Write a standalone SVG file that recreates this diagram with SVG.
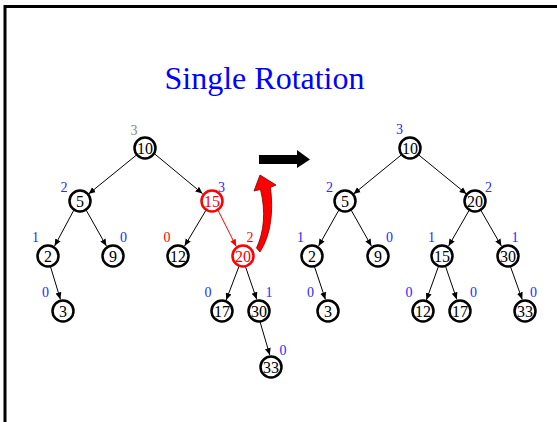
<svg xmlns="http://www.w3.org/2000/svg" width="557" height="422" viewBox="0 0 557 422">
<style>
.n circle{fill:#fff;stroke:#000;stroke-width:2.5}
.n text{font-family:"Liberation Serif","Times New Roman","DejaVu Serif",serif;font-size:16px;text-anchor:middle;fill:#000}
.r circle{stroke:#f00}
.r text{fill:#f00}
.t{font-family:"Liberation Serif","Times New Roman","DejaVu Serif",serif;font-size:32px;fill:#00f;text-anchor:middle}
.h{font-family:"Liberation Serif","Times New Roman","DejaVu Serif",serif;font-size:14px;fill:#2828ff;text-anchor:middle}
.hr{fill:#f00}
.hg{fill:#8a8a8a}
.e line{stroke:#000;stroke-width:1;marker-end:url(#ah)}
.e line.red{stroke:#f00;marker-end:url(#ahr)}
</style>
<defs>
<marker id="ah" markerUnits="userSpaceOnUse" markerWidth="8" markerHeight="8" viewBox="0 0 8 8" refX="7" refY="4" orient="auto"><path d="M0,1 L7,4 L0,7 Z" fill="#000"/></marker>
<marker id="ahr" markerUnits="userSpaceOnUse" markerWidth="8" markerHeight="8" viewBox="0 0 8 8" refX="7" refY="4" orient="auto"><path d="M0,1 L7,4 L0,7 Z" fill="#f00"/></marker>
</defs>
<rect width="557" height="422" fill="#fff"/>
<path d="M5,422 V6.5 H557" fill="none" stroke="#000" stroke-width="3"/>
<text class="t" x="264.5" y="89">Single Rotation</text>

<g id="connectors" class="e">
<line x1="136.5" y1="155" x2="88.5" y2="194"/>
<line x1="153.8" y1="153.2" x2="202.5" y2="193.6"/>
<line x1="73.8" y1="210.2" x2="54.6" y2="246"/>
<line x1="86.2" y1="210.2" x2="106.4" y2="246"/>
<line x1="206" y1="210.2" x2="184.6" y2="246"/>
<line class="red" x1="218" y1="210.2" x2="236.2" y2="246.4"/>
<line x1="50.5" y1="266.7" x2="60.4" y2="299.4"/>
<line x1="239" y1="266.3" x2="226.2" y2="300"/>
<line x1="245.5" y1="266.7" x2="256.7" y2="299.3"/>
<line x1="260" y1="321.7" x2="269.8" y2="355"/>
<line x1="401.2" y1="155" x2="353.5" y2="194"/>
<line x1="418.8" y1="155" x2="466.5" y2="194"/>
<line x1="338.8" y1="210.2" x2="318.6" y2="246"/>
<line x1="351.2" y1="210.2" x2="371.4" y2="246"/>
<line x1="469.2" y1="210.2" x2="448.6" y2="246"/>
<line x1="480.8" y1="210.2" x2="501.4" y2="246"/>
<line x1="314.5" y1="266.7" x2="325.4" y2="299.4"/>
<line x1="438.5" y1="266.3" x2="426.4" y2="300"/>
<line x1="445.5" y1="266.3" x2="456.8" y2="299.4"/>
<line x1="510.5" y1="266.7" x2="522.2" y2="299.4"/>
</g>

<g id="L10" class="n"><circle cx="145" cy="148" r="10.5"/><text x="145" y="153.5">10</text></g>
<g id="L5" class="n"><circle cx="80" cy="201" r="10.5"/><text x="80" y="206.5">5</text></g>
<g id="L15" class="n r"><circle cx="212" cy="201" r="10.5"/><text x="212" y="206.5">15</text></g>
<g id="L2" class="n"><circle cx="48" cy="256" r="10.5"/><text x="48" y="261.5">2</text></g>
<g id="L9" class="n"><circle cx="113" cy="256" r="10.5"/><text x="113" y="261.5">9</text></g>
<g id="L12" class="n"><circle cx="178" cy="256" r="10.5"/><text x="178" y="261.5">12</text></g>
<g id="L20" class="n r"><circle cx="243" cy="256" r="10.5"/><text x="243" y="261.5">20</text></g>
<g id="L3" class="n"><circle cx="63" cy="311" r="10.5"/><text x="63" y="316.5">3</text></g>
<g id="L17" class="n"><circle cx="222" cy="311" r="10.5"/><text x="222" y="316.5">17</text></g>
<g id="L30" class="n"><circle cx="259" cy="311" r="10.5"/><text x="259" y="316.5">30</text></g>
<g id="L33" class="n"><circle cx="271" cy="367" r="10.5"/><text x="271" y="372.5">33</text></g>

<g id="R10" class="n"><circle cx="410" cy="148" r="10.5"/><text x="410" y="153.5">10</text></g>
<g id="R5" class="n"><circle cx="345" cy="201" r="10.5"/><text x="345" y="206.5">5</text></g>
<g id="R20" class="n"><circle cx="475" cy="201" r="10.5"/><text x="475" y="206.5">20</text></g>
<g id="R2" class="n"><circle cx="312" cy="256" r="10.5"/><text x="312" y="261.5">2</text></g>
<g id="R9" class="n"><circle cx="378" cy="256" r="10.5"/><text x="378" y="261.5">9</text></g>
<g id="R15" class="n"><circle cx="442" cy="256" r="10.5"/><text x="442" y="261.5">15</text></g>
<g id="R30" class="n"><circle cx="508" cy="256" r="10.5"/><text x="508" y="261.5">30</text></g>
<g id="R3" class="n"><circle cx="328" cy="311" r="10.5"/><text x="328" y="316.5">3</text></g>
<g id="R12" class="n"><circle cx="423" cy="311" r="10.5"/><text x="423" y="316.5">12</text></g>
<g id="R17" class="n"><circle cx="460" cy="311" r="10.5"/><text x="460" y="316.5">17</text></g>
<g id="R33" class="n"><circle cx="525" cy="311" r="10.5"/><text x="525" y="316.5">33</text></g>

<g id="heights">
<text class="h hg" x="134" y="135">3</text>
<text class="h" x="64" y="192">2</text>
<text class="h" x="221.5" y="192">3</text>
<text class="h" x="35.5" y="242">1</text>
<text class="h" x="123.5" y="242">0</text>
<text class="h hr" x="167" y="242">0</text>
<text class="h hr" x="250" y="242">2</text>
<text class="h" x="45.5" y="297">0</text>
<text class="h" x="208" y="297">0</text>
<text class="h" x="269" y="297">1</text>
<text class="h" x="283" y="355">0</text>
<text class="h" x="399.5" y="134">3</text>
<text class="h" x="329.5" y="192">2</text>
<text class="h" x="488.5" y="192">2</text>
<text class="h" x="300.5" y="242">1</text>
<text class="h" x="389.5" y="242">0</text>
<text class="h" x="431.5" y="242">1</text>
<text class="h" x="515" y="242">1</text>
<text class="h" x="310.5" y="297">0</text>
<text class="h" x="409" y="297">0</text>
<text class="h" x="473.5" y="297">0</text>
<text class="h" x="533.5" y="297">0</text>
</g>

<g id="rotate-arrow">
<path d="M259,155 H297 V150 L310,159.5 L297,168 V164 H259 Z" fill="#000"/>
</g>
<g id="curved-arrow">
<path d="M260,175 L276,185 L270.5,187.5 C273.5,212 271,235 260,252 L256.5,248 C264,232 266,212 260.5,189.5 L254,191 Z" fill="#f00" stroke="#7a0000" stroke-width="0.8" stroke-linejoin="round"/>
</g>
</svg>
